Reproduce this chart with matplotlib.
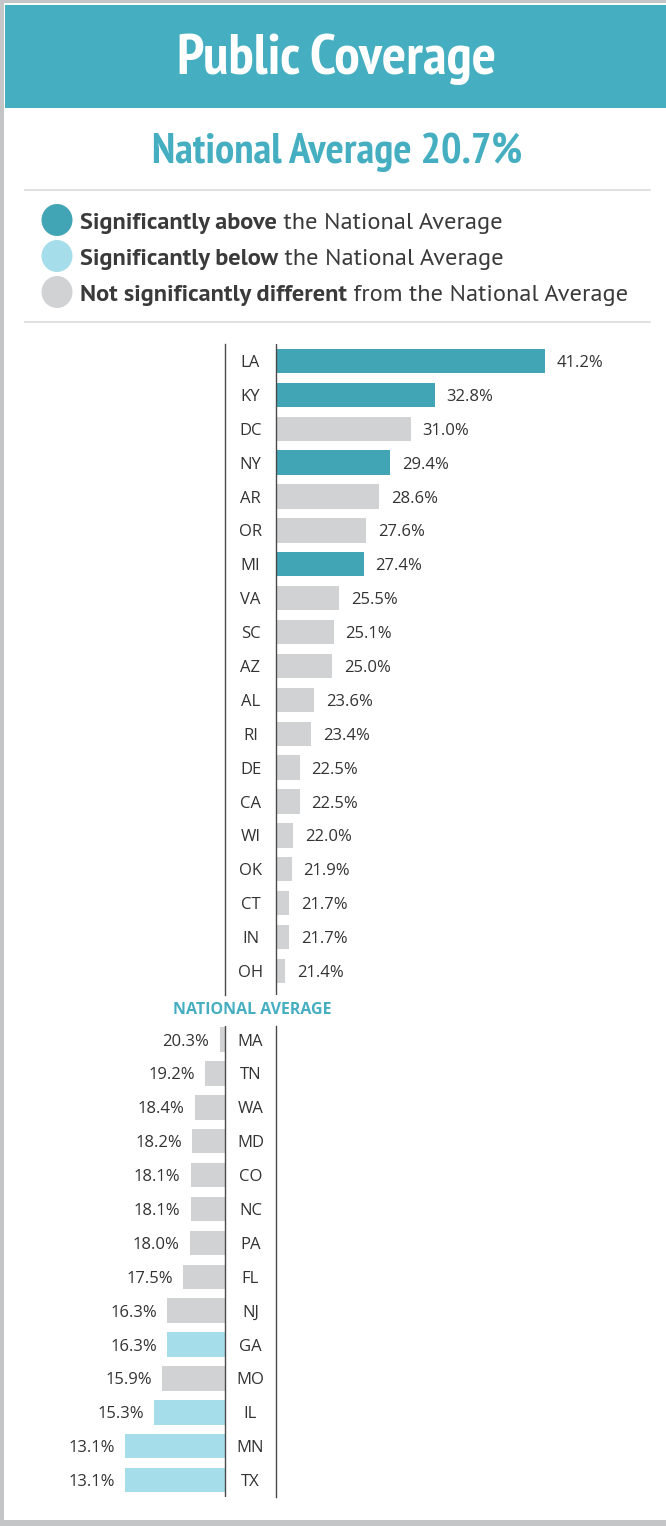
import matplotlib.pyplot as plt
from matplotlib.patches import Rectangle, Ellipse
import numpy as np

# data
top_states = ["LA", "KY", "DC", "NY", "AR", "OR", "MI", "VA", "SC", "AZ",
              "AL", "RI", "DE", "CA", "WI", "OK", "CT", "IN", "OH"]
top_values = [41.2, 32.8, 31.0, 29.4, 28.6, 27.6, 27.4, 25.5, 25.1, 25.0,
              23.6, 23.4, 22.5, 22.5, 22.0, 21.9, 21.7, 21.7, 21.4]
top_status = ["above", "above", "same", "above", "same", "same", "above", "same", "same", "same",
              "same", "same", "same", "same", "same", "same", "same", "same", "same"]

bottom_states = ["MA", "TN", "WA", "MD", "CO", "NC", "PA", "FL", "NJ", "GA",
                 "MO", "IL", "MN", "TX"]
bottom_values = [20.3, 19.2, 18.4, 18.2, 18.1, 18.1, 18.0, 17.5, 16.3, 16.3,
                 15.9, 15.3, 13.1, 13.1]
bottom_status = ["same", "same", "same", "same", "same", "same", "same", "same", "same", "below",
                 "same", "below", "below", "below"]

national_avg = 20.7

colors = {"above": "#41A5B5", "below": "#A6DDEB", "same": "#D1D2D4"}
TEAL = "#45AFC1"
DARK = "#333333"
LINE = "#4A4A4A"
FONT = "Open Sans"
NARROW = ["PT Sans Narrow", "DejaVu Sans"]
LEG = ["PT Sans", "Open Sans"]

W, H = 666, 1526
PX = 13.1          # pixels per percentage point
ROW = 33.89        # pixels per row

fig = plt.figure(figsize=(W / 100, H / 100), dpi=100)


def fx(x):
    return x / W


def fy(y):
    return 1 - y / H


def fig_rect(x0, y0, x1, y1, color):
    fig.patches.append(Rectangle((fx(x0), fy(y1)), fx(x1) - fx(x0), fy(y0) - fy(y1),
                                 transform=fig.transFigure, color=color, lw=0, zorder=0))


# frame + header band
fig_rect(0, 0, W, 3, "#C4C5C7")
fig_rect(0, 0, 4, H, "#C4C5C7")
fig_rect(0, 1520, W, H, "#C4C5C7")
fig_rect(5, 5, W, 108, TEAL)

fig.text(fx(337), fy(59), "Public Coverage", color="white", fontsize=41,
         fontweight="bold", family=NARROW, ha="center", va="center")
fig.text(fx(337), fy(152), "National Average 20.7%", color=TEAL, fontsize=31,
         fontweight="bold", family=NARROW, ha="center", va="center")

# separators
for yl in (190, 322):
    fig.lines.append(plt.Line2D([fx(25), fx(650)], [fy(yl), fy(yl)], transform=fig.transFigure,
                                color="#DADADA", lw=1.2))

# legend
legend_items = [("above", "Significantly above", " the National Average"),
                ("below", "Significantly below", " the National Average"),
                ("same", "Not significantly different", " from the National Average")]
for i, (key, bold, rest) in enumerate(legend_items):
    yc = 220 + i * 36
    fig.patches.append(Ellipse((fx(57), fy(yc)), 31 / W, 32 / H, transform=fig.transFigure,
                               color=colors[key], lw=0))
    t1 = fig.text(fx(80), fy(yc + 3.5), bold, color="#3A3A3A", fontsize=17.6, fontweight="bold",
                  family=LEG, ha="left", va="center")
    fig.add_artist(plt.Annotation(rest, xy=(1, 0), xycoords=t1, color="#3A3A3A",
                                  fontsize=17.6, family=LEG, ha="left", va="bottom"))

# top axes (above national average)
ax1 = fig.add_axes([fx(225), fy(344 + 19.2 * ROW), fx(W) - fx(225), 19.2 * ROW / H])
diff_top = np.array(top_values) - national_avg
y_top = np.arange(len(top_states))
ax1.barh(y_top, diff_top, height=0.72, color=[colors[s] for s in top_status])
ax1.set_xlim(-51 / PX, (W - 276) / PX)
ax1.set_ylim(18.7, -0.5)
ax1.axvline(0, color=LINE, lw=1)
for y, st, v, d in zip(y_top, top_states, top_values, diff_top):
    ax1.text(-25.5 / PX, y + 0.06, st, ha="center", va="center", fontsize=12,
             family=FONT, color=DARK)
    ax1.annotate(f"{v:.1f}%", (d, y + 0.06), xytext=(8.5, 0), textcoords="offset points",
                 ha="left", va="center", fontsize=12, family=FONT, color=DARK)

# bottom axes (below national average)
ax2 = fig.add_axes([0, fy(1026 + 13.9 * ROW), fx(276), 13.9 * ROW / H])
diff_bot = np.array(bottom_values) - national_avg
y_bot = np.arange(len(bottom_states))
ax2.barh(y_bot, diff_bot, height=0.72, color=[colors[s] for s in bottom_status])
ax2.set_xlim(-225 / PX, 51 / PX)
ax2.set_ylim(13.5, -0.4)
ax2.axvline(0, color=LINE, lw=1)
for y, st, v, d in zip(y_bot, bottom_states, bottom_values, diff_bot):
    ax2.text(25.5 / PX, y + 0.06, st, ha="center", va="center", fontsize=12,
             family=FONT, color=DARK)
    ax2.annotate(f"{v:.1f}%", (d, y + 0.06), xytext=(-7.5, 0), textcoords="offset points",
                 ha="right", va="center", fontsize=12, family=FONT, color=DARK)

for ax, side in ((ax1, "left"), (ax2, "right")):
    ax.set_facecolor("none")
    for s in ax.spines:
        ax.spines[s].set_visible(s == side)
    ax.spines[side].set_color(LINE)
    ax.spines[side].set_linewidth(1)
    ax.set_xticks([])
    ax.set_yticks([])

fig.text(fx(252), fy(1010), "NATIONAL AVERAGE", color=TEAL, fontsize=11.5,
         fontweight="bold", family=FONT, ha="center", va="center")

fig.savefig("out.png", dpi=100)
